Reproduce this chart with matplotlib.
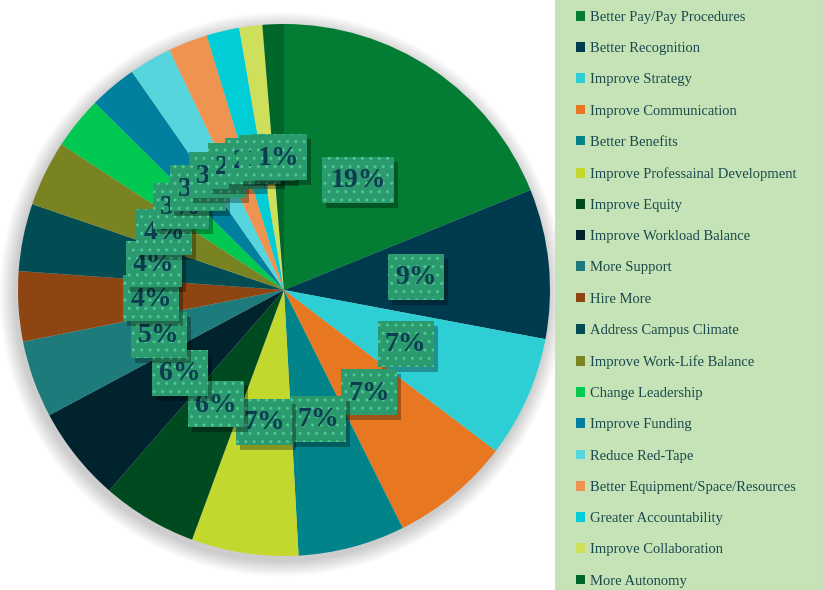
import numpy as np
import matplotlib.pyplot as plt
from matplotlib.patches import Rectangle, Circle

categories = [
    "Better Pay/Pay Procedures", "Better Recognition", "Improve Strategy",
    "Improve Communication", "Better Benefits", "Improve Professainal Development",
    "Improve Equity", "Improve Workload Balance", "More Support", "Hire More",
    "Address Campus Climate", "Improve Work-Life Balance", "Change Leadership",
    "Improve Funding", "Reduce Red-Tape", "Better Equipment/Space/Resources",
    "Greater Accountability", "Improve Collaboration", "More Autonomy",
]
shares = [18.9, 9.1, 7.4, 7.3, 6.5, 6.5, 5.8, 5.8, 4.7, 4.25, 4.1, 4.0,
          3.2, 2.9, 2.6, 2.4, 2.0, 1.4, 1.3]
pct_labels = [19, 9, 7, 7, 7, 7, 6, 6, 5, 4, 4, 4, 3, 3, 3, 2, 2, 1, 1]
colors = [
    "#037d34", "#003a4f", "#2ecfd4", "#e87722", "#008489", "#c2d82f",
    "#004a20", "#01232e", "#1d7b7b", "#8f4512", "#024d53", "#7a8321",
    "#00c850", "#007f9f", "#56d6dc", "#ee9450", "#00cdd6", "#cddf5b", "#006629",
]

plt.rcParams['hatch.linewidth'] = 1.0

fig = plt.figure(figsize=(8.23, 5.90), dpi=100)
W, H = 823, 590

# legend panel
fig.patches.append(Rectangle((555 / W, 0), (W - 555) / W, 1, transform=fig.transFigure,
                             facecolor="#c5e3b6", edgecolor="none", zorder=0))

cx, cy, r = 284, 290, 266
ax = fig.add_axes([(cx - r) / W, (H - cy - r) / H, 2 * r / W, 2 * r / H])

# soft shadow around the pie
for k in range(10):
    ax.add_patch(Circle((-0.008, -0.016), 1.0 + 0.006 * (k + 1), facecolor="#000000",
                        edgecolor="none", alpha=0.018, zorder=0, clip_on=False))

wedges, _ = ax.pie(shares, colors=colors, startangle=90, counterclock=False,
                   radius=1.0, wedgeprops=dict(linewidth=0))
for w in wedges:
    w.set_zorder(2)
ax.set_xlim(-1, 1)
ax.set_ylim(-1, 1)
ax.axis('off')

px = 1.0 / r  # one pixel in data units
for i, (w, p) in enumerate(zip(wedges, pct_labels)):
    ang = np.deg2rad((w.theta1 + w.theta2) / 2)
    x, y = 0.5 * np.cos(ang), 0.5 * np.sin(ang)
    txt = f"{p}%"
    bw = (40 + 16 * len(str(p))) * px
    bh = 46 * px
    ax.add_patch(Rectangle((x - bw / 2 + 4 * px, y - bh / 2 - 5 * px), bw, bh,
                           facecolor='#000000', alpha=0.3, edgecolor='none',
                           zorder=10 + 3 * i))
    ax.add_patch(Rectangle((x - bw / 2, y - bh / 2), bw, bh, facecolor='#2b9a6e',
                           edgecolor='#4cc993', linewidth=0, hatch='..',
                           zorder=11 + 3 * i))
    ax.text(x, y - 1 * px, txt, ha='center', va='center', fontsize=20, fontweight='bold',
            family='Liberation Serif', color='#0d3b52', zorder=12 + 3 * i)

leg = fig.legend(wedges, categories, loc='upper left',
                 bbox_to_anchor=(570 / W, 1 - 5 / H), frameon=False,
                 prop=dict(family='Liberation Serif', size=10.5),
                 handlelength=0.65, handleheight=0.65, handletextpad=0.35,
                 labelspacing=1.25, borderaxespad=0)
for t in leg.get_texts():
    t.set_color('#1b4a4d')

fig.savefig("out.png", dpi=100)
